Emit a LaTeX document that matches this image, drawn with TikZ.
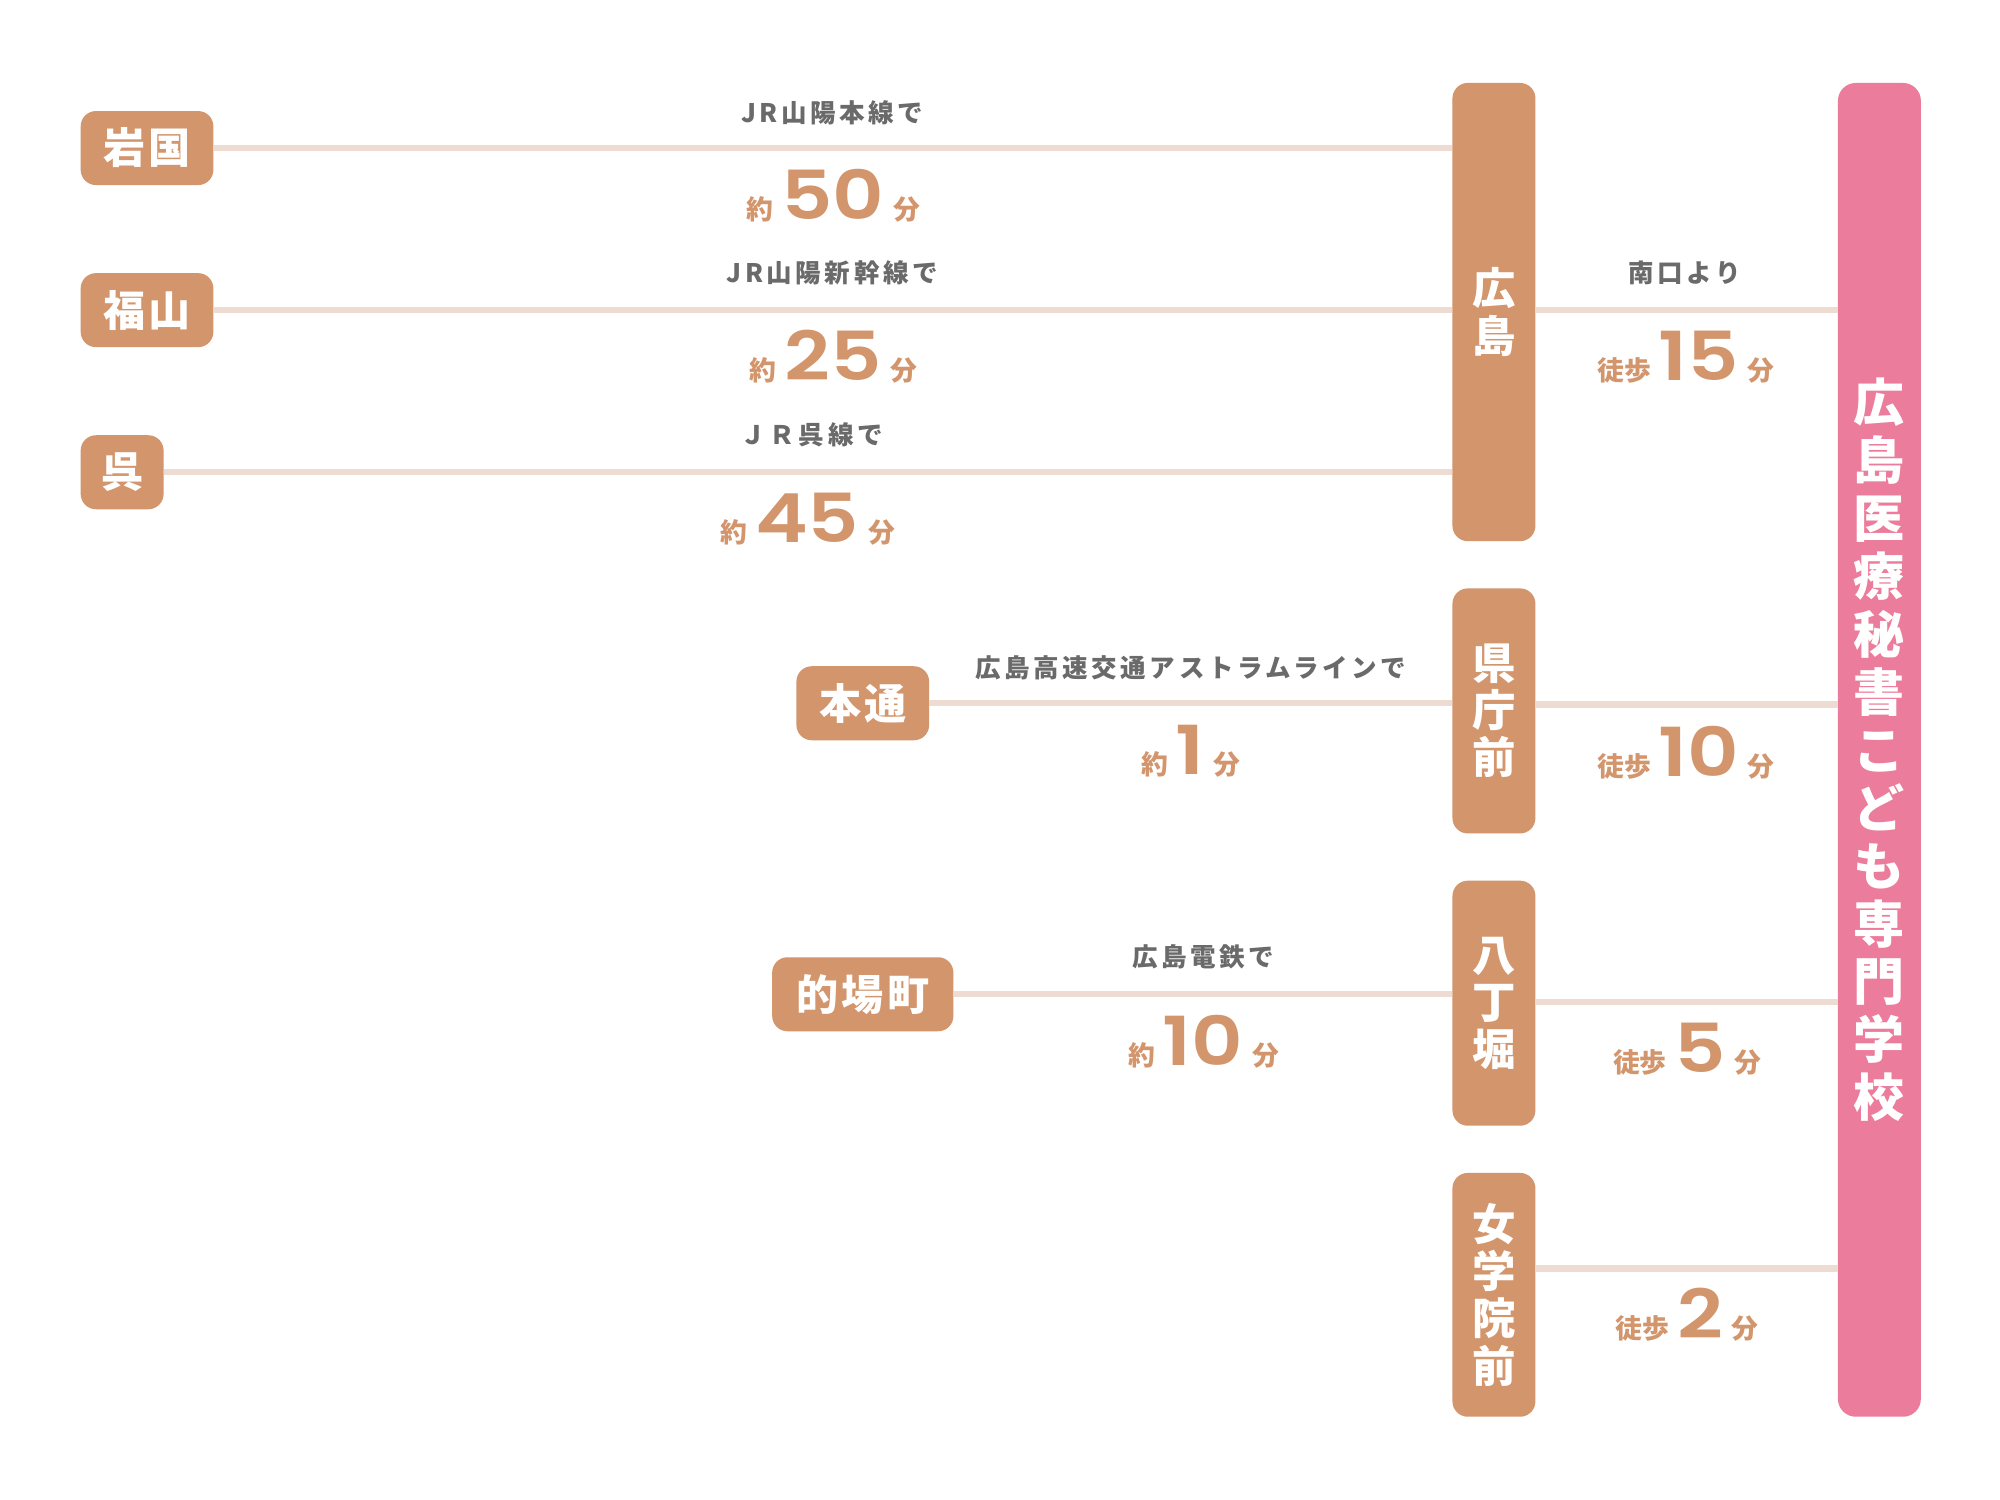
\documentclass[tikz,border=0pt]{standalone}
\usepackage{fontspec}
\usepackage{graphicx}
\usetikzlibrary{positioning}
\newfontfamily\jp{Noto Sans CJK JP}
\newfontfamily\jpbox{Noto Sans CJK JP}[LetterSpace=8]
\newfontfamily\jpsp{Noto Sans CJK JP}[LetterSpace=14]
\newfontfamily\digits{Poppins}[UprightFont=* SemiBold]
\definecolor{stncol}{HTML}{D3956C}
\definecolor{schoolcol}{HTML}{EC7C9B}
\definecolor{railcol}{HTML}{EEDCD2}
\definecolor{labelcol}{HTML}{6A6A6A}
\newcommand{\ridetime}[2]{{\jp\bfseries\fontsize{21}{21}\selectfont #1}\hspace{6pt}\scalebox{1.18}[1]{\digits\fontsize{53}{53}\selectfont #2}\hspace{7pt}{\jp\bfseries\fontsize{21}{21}\selectfont 分}}
\tikzset{
	origbox/.style = {fill=stncol, rounded corners=12pt, text=white, inner sep=0pt,
		minimum height=58pt, font=\jpbox\bfseries\fontsize{33}{33}\selectfont},
	stnbox/.style = {fill=stncol, rounded corners=12pt, text=white, inner sep=0pt,
		minimum width=65pt, align=center, font=\jp\bfseries\fontsize{34}{37}\selectfont},
	schoolbox/.style = {fill=schoolcol, rounded corners=14pt, text=white, inner sep=0pt,
		minimum width=65pt, align=center, font=\jp\bfseries\fontsize{40}{45.4}\selectfont},
	rail/.style = {draw=railcol, line width=5pt},
	linelabel/.style = {text=labelcol, inner sep=0pt, font=\jpsp\bfseries\fontsize{20}{20}\selectfont},
	timelabel/.style = {text=stncol, inner sep=0pt, anchor=base}
}
\begin{document}
\begin{tikzpicture}[x=1pt, y=-1pt]
		\fill[white] (0,0) rectangle (1567,1175);
		\useasboundingbox (0,0) rectangle (1567,1175);
		% departure stations
		\node[origbox, anchor=west, minimum width=104pt] (iwakuni) at (63,116) {岩国};
		\node[origbox, anchor=west, minimum width=104pt] (fukuyama) at (63,243) {福山};
		\node[origbox, anchor=west, minimum width=65pt] (kure) at (63,370) {呉};
		\node[origbox, minimum width=104pt] (hondori) at (676,551) {本通};
		\node[origbox, minimum width=142pt] (matoba) at (676,779) {的場町};
		% arrival stations
		\node[stnbox, minimum height=359pt] (hiroshima) at (1170.5,244.5) {広\\島};
		\node[stnbox, minimum height=192pt] (kencho) at (1170.5,557) {県\\庁\\前};
		\node[stnbox, minimum height=192pt] (hatchobori) at (1170.5,786) {八\\丁\\堀};
		\node[stnbox, minimum height=191pt] (jogakuin) at (1170.5,1014.5) {女\\学\\院\\前};
		% school
		\node[schoolbox, minimum height=1045pt] (school) at (1472.5,587.5)
			{広\\島\\医\\療\\秘\\書\\こ\\ど\\も\\専\\門\\学\\校};
		% walking levels
		\coordinate (walkA) at (0,243);
		\coordinate (walkB) at (0,552);
		\coordinate (walkC) at (0,785);
		\coordinate (walkD) at (0,994);
		% rides
		\draw[rail] (iwakuni.east) -- (iwakuni.east -| hiroshima.west);
		\draw[rail] (fukuyama.east) -- (fukuyama.east -| hiroshima.west);
		\draw[rail] (kure.east) -- (kure.east -| hiroshima.west);
		\draw[rail] (hondori.east) -- (hondori.east -| kencho.west);
		\draw[rail] (matoba.east) -- (matoba.east -| hatchobori.west);
		% walks
		\draw[rail] (hiroshima.east |- walkA) -- (school.west |- walkA);
		\draw[rail] (kencho.east |- walkB) -- (school.west |- walkB);
		\draw[rail] (hatchobori.east |- walkC) -- (school.west |- walkC);
		\draw[rail] (jogakuin.east |- walkD) -- (school.west |- walkD);
		% line names
		\node[linelabel] (sanyo) at (652,88) {JR山陽本線で};
		\node[linelabel] (shinkansen) at (652,214) {JR山陽新幹線で};
		\node[linelabel] (kuresen) at (636,341) {ＪＲ呉線で};
		\node[linelabel] (minamiguchi) at (1320,214) {南口より};
		\node[linelabel] (astram) at (933,523) {広島高速交通アストラムラインで};
		\node[linelabel] (dentetsu) at (943,750) {広島電鉄で};
		% times
		\node[timelabel] (t50) at (653,172) {\ridetime{約}{50}};
		\node[timelabel] (t25) at (653,298) {\ridetime{約}{25}};
		\node[timelabel] (t45) at (633,425) {\ridetime{約}{45}};
		\node[timelabel] (t1) at (933,607) {\ridetime{約}{1}};
		\node[timelabel] (t10) at (943,835) {\ridetime{約}{10}};
		\node[timelabel] (w15) at (1321,298) {\ridetime{徒歩}{15}};
		\node[timelabel] (w10) at (1321,608) {\ridetime{徒歩}{10}};
		\node[timelabel] (w5) at (1322,840) {\ridetime{徒歩}{5}};
		\node[timelabel] (w2) at (1322,1049) {\ridetime{徒歩}{2}};
\end{tikzpicture}
\end{document}
